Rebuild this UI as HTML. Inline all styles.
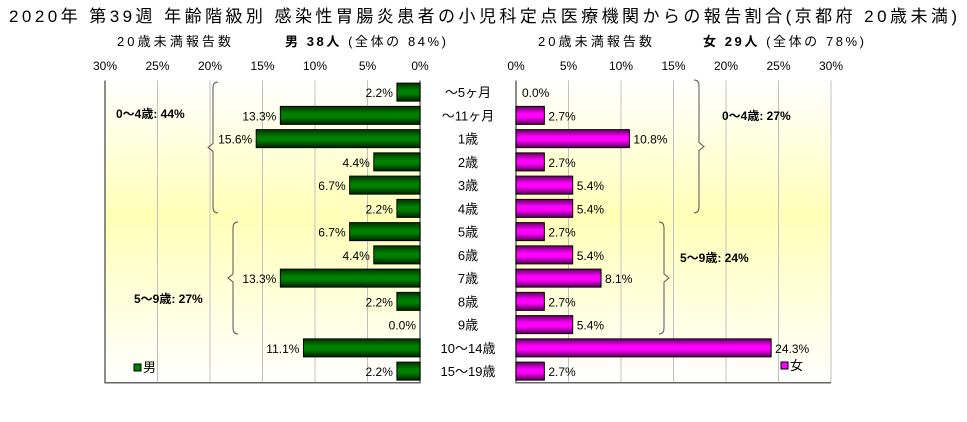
<!DOCTYPE html>
<html><head><meta charset="utf-8"><style>
body{margin:0;width:967px;height:417px;background:#fff;overflow:hidden;font-family:"Liberation Sans","Noto Sans CJK JP",sans-serif}
svg text{font-family:"Liberation Sans","Noto Sans CJK JP",sans-serif}
</style></head><body>
<svg id="c" width="967" height="417">
<defs>
<linearGradient id="bg" x1="0" y1="0" x2="0" y2="1"><stop offset="0" stop-color="#ffffff"/><stop offset="0.45" stop-color="#ffffb8"/><stop offset="1" stop-color="#ffffff"/></linearGradient>
<linearGradient id="gm" x1="0" y1="0" x2="0" y2="1"><stop offset="0" stop-color="#003300"/><stop offset="0.4" stop-color="#008000"/><stop offset="0.6" stop-color="#008000"/><stop offset="1" stop-color="#002200"/></linearGradient>
<linearGradient id="gf" x1="0" y1="0" x2="0" y2="1"><stop offset="0" stop-color="#660066"/><stop offset="0.4" stop-color="#ff00ff"/><stop offset="0.6" stop-color="#ff00ff"/><stop offset="1" stop-color="#550055"/></linearGradient>
</defs>
<text x="9" y="22" font-size="17" textLength="948" lengthAdjust="spacing">2020年 第39週 年齢階級別 感染性胃腸炎患者の小児科定点医療機関からの報告割合(京都府 20歳未満)</text>
<text x="117" y="46" font-size="13" textLength="114" lengthAdjust="spacing">20歳未満報告数</text>
<text x="285" y="46" font-size="13" textLength="161" lengthAdjust="spacing"><tspan font-weight="bold">男 38人</tspan> (全体の 84%)</text>
<text x="538" y="46" font-size="13" textLength="114" lengthAdjust="spacing">20歳未満報告数</text>
<text x="703" y="46" font-size="13" textLength="161" lengthAdjust="spacing"><tspan font-weight="bold">女 29人</tspan> (全体の 78%)</text>
<g id="g"></g>
</svg>
<script>
const categories=["～5ヶ月","～11ヶ月","1歳","2歳","3歳","4歳","5歳","6歳","7歳","8歳","9歳","10～14歳","15～19歳"];
const maleValues=[2.2,13.3,15.6,4.4,6.7,2.2,6.7,4.4,13.3,2.2,0.0,11.1,2.2];
const femaleValues=[0.0,2.7,10.8,2.7,5.4,5.4,2.7,5.4,8.1,2.7,5.4,24.3,2.7];
const ticks=[0,5,10,15,20,25,30];
(function(){
const NS="http://www.w3.org/2000/svg",g=document.getElementById('g');
const plotTop=80.5,rowH=23.25,bot=plotTop+rowH*categories.length;
const xL=v=>420-v*10.5, xR=v=>516+v*10.5, yC=i=>plotTop+(i+0.5)*rowH;
function mk(t,a,txt){const e=document.createElementNS(NS,t);for(const k in a)e.setAttribute(k,a[k]);if(txt!=null)e.textContent=txt;g.appendChild(e);return e;}
let e=mk('rect',{x:xL(30),y:plotTop,width:xL(0)-xL(30),height:bot-plotTop,fill:'url(#bg)'});

e=mk('rect',{x:xR(0),y:plotTop,width:xR(30)-xR(0),height:bot-plotTop,fill:'url(#bg)'});

ticks.forEach(t=>{
 e=mk('line',{x1:xL(t),x2:xL(t),y1:plotTop,y2:bot,stroke:'#c0c0c0'});
 
 e=mk('line',{x1:xR(t),x2:xR(t),y1:plotTop,y2:bot,stroke:'#c0c0c0'});
 
 e=mk('text',{x:xL(t),y:70,'text-anchor':'middle','font-size':12},t+'%');
 
 e=mk('text',{x:xR(t),y:70,'text-anchor':'middle','font-size':12},t+'%');
 
});
e=mk('path',{d:`M${xL(30)} ${plotTop}V${bot}H${xL(0)}V${plotTop}`,fill:'none',stroke:'#666','stroke-width':1.5});

e=mk('path',{d:`M${xR(0)} ${plotTop}V${bot}H${xR(30)}`,fill:'none',stroke:'#666','stroke-width':1.5});

categories.forEach((c,i)=>{
 const y=yC(i),h=18;
 e=mk('text',{x:468,y:y+5,'text-anchor':'middle','font-size':13},c);
 
 const m=maleValues[i];
 if(m>0){e=mk('rect',{x:xL(m),y:y-h/2,width:xL(0)-xL(m),height:h,fill:'url(#gm)',stroke:'#000','stroke-width':1});
 }
 e=mk('text',{x:xL(m)-4,y:y+5,'text-anchor':'end','font-size':12},m.toFixed(1)+'%');
 
 const f=femaleValues[i];
 if(f>0){e=mk('rect',{x:xR(0),y:y-h/2,width:xR(f)-xR(0),height:h,fill:'url(#gf)',stroke:'#000','stroke-width':1});
 }
 e=mk('text',{x:xR(f)+(f>0?4:6),y:y+5,'font-size':12},f.toFixed(1)+'%');
 
});
function braceL(x,y1,y2){const m=(y1+y2)/2;return `M${x+5} ${y1}Q${x} ${y1} ${x} ${y1+6}V${m-4}L${x-5} ${m}L${x} ${m+4}V${y2-6}Q${x} ${y2} ${x+5} ${y2}`;}
function braceR(x,y1,y2){const m=(y1+y2)/2;return `M${x-5} ${y1}Q${x} ${y1} ${x} ${y1+6}V${m-4}L${x+5} ${m}L${x} ${m+4}V${y2-6}Q${x} ${y2} ${x-5} ${y2}`;}
e=mk('path',{d:braceL(213,82,213),fill:'none',stroke:'#555'});
e=mk('path',{d:braceL(233,222,334),fill:'none',stroke:'#555'});
e=mk('path',{d:braceR(699,80,213),fill:'none',stroke:'#555'});
e=mk('path',{d:braceR(664,222,334),fill:'none',stroke:'#555'});
e=mk('text',{x:116,y:118,'font-size':12,'font-weight':'bold'},'0～4歳: 44%');
e=mk('text',{x:134,y:303,'font-size':12,'font-weight':'bold'},'5～9歳: 27%');
e=mk('text',{x:722,y:120,'font-size':12,'font-weight':'bold'},'0～4歳: 27%');
e=mk('text',{x:680,y:262,'font-size':12,'font-weight':'bold'},'5～9歳: 24%');
e=mk('rect',{x:134,y:364,width:7,height:7,fill:'#008000',stroke:'#000'});
e=mk('text',{x:143,y:372,'font-size':13},'男');
e=mk('rect',{x:781,y:362,width:7,height:7,fill:'#ff00ff',stroke:'#000'});
e=mk('text',{x:790,y:370,'font-size':13},'女');
})();
</script>
</body></html>
